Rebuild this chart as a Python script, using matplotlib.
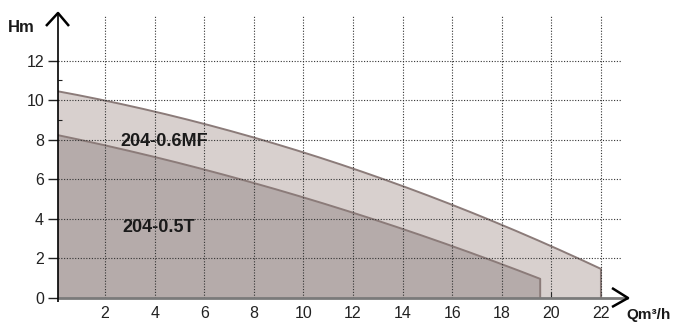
import matplotlib
matplotlib.use("Agg")
import matplotlib.pyplot as plt
from matplotlib.lines import Line2D
import numpy as np

plt.rcParams['font.family'] = ['Liberation Sans', 'DejaVu Sans']

# Data
q_mf = [0, 2, 4, 6, 8, 10, 12, 14, 16, 18, 20, 22]
h_mf = [10.45, 10.0, 9.45, 8.8, 8.05, 7.35, 6.5, 5.7, 4.7, 3.7, 2.7, 1.4]
q_t = [0, 2, 4, 6, 8, 10, 12, 14, 16, 18, 19.55]
h_t = [8.3, 7.7, 7.1, 6.48, 5.8, 5.05, 4.28, 3.42, 2.78, 1.92, 0.74]
xticks = [2, 4, 6, 8, 10, 12, 14, 16, 18, 20, 22]
yticks = [0, 2, 4, 6, 8, 10, 12]
label_mf = "204-0.6MF"
label_t = "204-0.5T"

W, H = 673, 325
fig = plt.figure(figsize=(W / 100, H / 100), dpi=100)
x0, x1 = 58, 622
y0, y1 = 298, 15
ax = fig.add_axes([x0 / W, (H - y0) / H, (x1 - x0) / W, (y0 - y1) / H])
ax.set_xlim(0.1, 22.85)
ax.set_ylim(0, 14.3)

fill_mf = '#d8d0ce'
fill_t = '#b5abaa'
edge = '#8b7b79'

def smooth(q, h):
    c = np.polyfit(q, h, 2)
    qq = np.linspace(q[0], q[-1], 200)
    return list(qq), list(np.polyval(c, qq))

qm, hm = smooth(q_mf, h_mf)
qt, ht = smooth(q_t, h_t)

ax.fill_between(qm + [qm[-1]], hm + [0], 0, color=fill_mf, lw=0, zorder=1)
ax.plot(qm + [qm[-1]], hm + [0], color=edge, lw=1.4, zorder=2)
ax.fill_between(qt + [qt[-1]], ht + [0], 0, color=fill_t, lw=0, zorder=3)
ax.plot(qt + [qt[-1]], ht + [0], color=edge, lw=1.4, zorder=4)

# grid
for x in xticks:
    ax.axvline(x, color='#333333', lw=0.8, ls=(0, (1, 1.5)), zorder=5)
for y in yticks[1:]:
    ax.axhline(y, color='#333333', lw=0.8, ls=(0, (1, 1.5)), zorder=5)

for s in ['top', 'right', 'left', 'bottom']:
    ax.spines[s].set_visible(False)

ax.set_xticks(xticks)
ax.set_yticks(yticks)
ax.set_yticks([1, 3, 5, 7, 9, 11], minor=True)
ax.tick_params(axis='y', which='major', direction='out', length=7, width=1, color='#222222',
               labelsize=11.5, pad=3, labelcolor='#222222')
ax.tick_params(axis='y', which='minor', direction='in', length=3, width=0.8, color='#222222')
ax.tick_params(axis='x', which='major', direction='in', length=4, width=0.8, color='#222222',
               labelsize=11.5, pad=6, labelcolor='#222222')

ax.text(4.4, 7.9, label_mf, fontsize=13, fontweight='bold', ha='center', va='center',
        color='#1a1a1a', zorder=6)
ax.text(4.15, 3.55, label_t, fontsize=13, fontweight='bold', ha='center', va='center',
        color='#1a1a1a', zorder=6)

def px(x, y):
    return x / W, (H - y) / H

def line(xs, ys, color='black', lw=1.5):
    pts = [px(a, b) for a, b in zip(xs, ys)]
    fig.add_artist(Line2D([p[0] for p in pts], [p[1] for p in pts], color=color, lw=lw,
                          transform=fig.transFigure, solid_capstyle='butt', zorder=10))

# axes lines
line([x0, 628], [y0, y0], color='#7a7a7a', lw=2)
line([x0, x0], [y0 + 4, 14], color='black', lw=1.2)
# arrows
line([46, 58, 69], [26, 13, 26], color='black', lw=1.8)
line([612, 628, 612], [288, 298, 307], color='black', lw=1.8)

fig.text(*px(8, 28), "Hm", fontsize=12, fontweight='bold', ha='left', va='center', color='#1a1a1a')
fig.text(*px(671, 315), "Qm³/h", fontsize=11, fontweight='bold', ha='right', va='center', color='#1a1a1a')

fig.savefig("out.png", dpi=100)
